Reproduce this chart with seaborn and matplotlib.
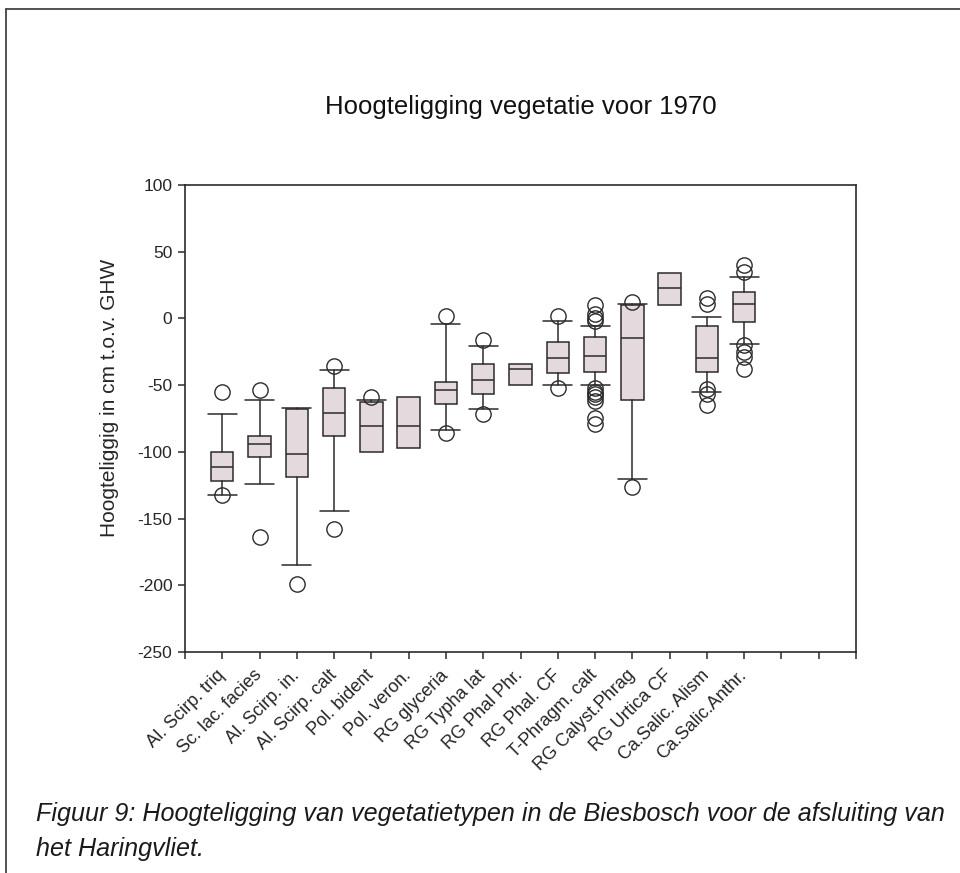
import matplotlib
matplotlib.use("Agg")
import matplotlib.pyplot as plt
from matplotlib.lines import Line2D
import seaborn as sns

sns.set_style("ticks")
plt.rcParams['font.family'] = ['Liberation Sans', 'DejaVu Sans']

categories = ["Al. Scirp. triq", "Sc. lac. facies", "Al. Scirp. in.", "Al. Scirp. calt",
              "Pol. bident", "Pol. veron.", "RG glyceria", "RG Typha lat", "RG Phal Phr.",
              "RG Phal. CF", "T-Phragm. calt", "RG Calyst.Phrag", "RG Urtica CF",
              "Ca.Salic. Alism", "Ca.Salic.Anthr."]
q1 = [-122, -104, -119, -88, -100, -97, -64, -57, -50, -41, -40, -61, 10, -40, -3]
median = [-111, -94, -102, -71, -81, -81, -54, -46, -38, -30, -28, -15, 23, -30, 11]
q3 = [-100, -88, -68, -52, -63, -59, -48, -34, -34, -18, -14, 10, 34, -6, 20]
whislo = [-132, -124, -185, -144, -100, -97, -84, -68, -50, -50, -50, -120, 10, -55, -19]
whishi = [-72, -61, -67, -39, -61, -59, -4, -21, -34, -2, -6, 11, 34, 1, 31]
fliers = [[-55, -132], [-54, -164], [-199], [-36, -158], [-59], [], [2, -86], [-16, -72],
          [], [2, -52], [10, 3, 0, -2, -52, -55, -57, -59, -62, -75, -79], [12, -126], [],
          [15, 11, -53, -57, -65], [40, 35, -20, -25, -29, -38]]
y_ticks = [100, 50, 0, -50, -100, -150, -200, -250]

fig = plt.figure(figsize=(9.6, 8.73), dpi=100)
ax = fig.add_axes([0.1927, 0.2532, 0.699, 0.5349])

stats = []
for i, c in enumerate(categories):
    stats.append(dict(label=c, q1=q1[i], med=median[i], q3=q3[i],
                      whislo=whislo[i], whishi=whishi[i], fliers=fliers[i]))

edge = "#2b2b2b"
fill = "#e4d9dd"
positions = list(range(1, len(categories) + 1))
bp = ax.bxp(stats, positions=positions, widths=0.6, capwidths=0.78, patch_artist=True,
            boxprops=dict(facecolor=fill, edgecolor=edge, linewidth=1.1),
            medianprops=dict(color=edge, linewidth=1.1),
            whiskerprops=dict(color=edge, linewidth=1.1),
            capprops=dict(color=edge, linewidth=1.1),
            flierprops=dict(marker='o', markerfacecolor='none', markeredgecolor=edge,
                            markersize=11, markeredgewidth=1.0))
# hide caps where the whisker coincides with the box edge
for i in range(len(categories)):
    lo_cap, hi_cap = bp['caps'][2 * i], bp['caps'][2 * i + 1]
    if whislo[i] == q1[i]:
        lo_cap.set_visible(False)
    if whishi[i] == q3[i]:
        hi_cap.set_visible(False)

ax.set_xlim(0, 18)
ax.set_ylim(-250, 100)
ax.set_xticks(range(0, 19))
ax.set_xticklabels([""] + categories + ["", "", ""], rotation=45, ha="right",
                   va="center", rotation_mode="anchor", fontsize=13)
ax.set_yticks(y_ticks)
ax.set_yticklabels([str(v) for v in y_ticks], fontsize=12.5)
ax.tick_params(axis="both", direction="out", length=5, width=1.1, color=edge, pad=4)
ax.tick_params(axis="x", pad=10)
for s in ax.spines.values():
    s.set_visible(True)
    s.set_linewidth(1.2)
    s.set_color(edge)
ax.grid(False)

ax.set_ylabel("Hoogteliggig in cm t.o.v. GHW", fontsize=15)
ax.yaxis.set_label_coords(-0.099, 0.544)
fig.text(0.542, 0.877, "Hoogteligging vegetatie voor 1970", ha="center", va="center",
         fontsize=18.5, color="#111111")

cap_font = ['Liberation Sans', 'DejaVu Sans']
fig.text(0.038, 0.068, "Figuur 9: Hoogteligging van vegetatietypen in de Biesbosch voor de afsluiting van",
         ha="left", va="center", fontsize=18.1, style="italic", color="#1a1a1a", family=cap_font)
fig.text(0.038, 0.028, "het Haringvliet.", ha="left", va="center", fontsize=18.1,
         style="italic", color="#1a1a1a", family=cap_font)

# page frame lines (top and left)
fig.add_artist(Line2D([0.006, 1.0], [0.990, 0.990], transform=fig.transFigure,
                      color="#444444", linewidth=1.3))
fig.add_artist(Line2D([0.0065, 0.0065], [0.0, 0.990], transform=fig.transFigure,
                      color="#444444", linewidth=1.3))

fig.savefig("out.png", dpi=100)
